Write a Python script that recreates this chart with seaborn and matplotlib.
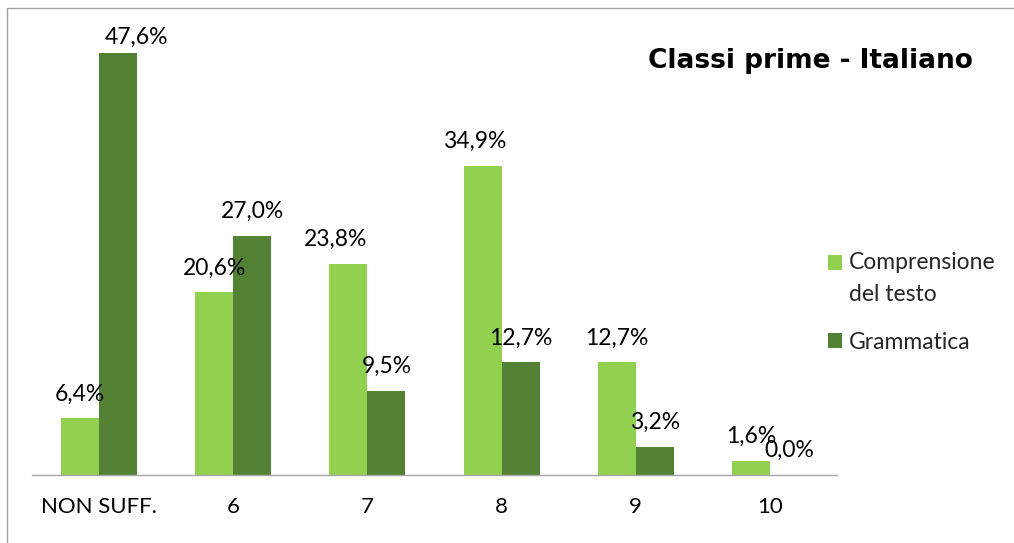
import matplotlib
matplotlib.use("Agg")
import matplotlib.pyplot as plt
import seaborn as sns
import pandas as pd
from matplotlib.patches import Rectangle
from matplotlib.legend_handler import HandlerPatch

categories = ["NON SUFF.", "6", "7", "8", "9", "10"]
series = ["Comprensione\ndel testo", "Grammatica"]
comprensione = [6.4, 20.6, 23.8, 34.9, 12.7, 1.6]
grammatica = [47.6, 27.0, 9.5, 12.7, 3.2, 0.0]
title = "Classi prime - Italiano"
colors = ["#92D050", "#548235"]

df = pd.DataFrame({
    "Voto": categories * 2,
    "Percentuale": comprensione + grammatica,
    "Serie": [series[0]] * len(categories) + [series[1]] * len(categories),
})

sns.set_theme(style="white")
plt.rcParams["font.family"] = ["Lato", "DejaVu Sans"]

W, H, DPI = 1014, 543, 100
fig = plt.figure(figsize=(W / DPI, H / DPI), dpi=DPI)
fig.patch.set_facecolor("white")
ax = fig.add_axes([32 / W, 1 - 475 / H, (837 - 32) / W, (475 - 31.7) / H])

sns.barplot(data=df, x="Voto", y="Percentuale", hue="Serie", palette=colors,
            saturation=1, width=0.566, gap=0, linewidth=0, ax=ax, legend=False)

ax.set_xlim(-0.5, len(categories) - 0.5)
ax.set_ylim(0, 50)
ax.set_yticks([])
ax.set_xlabel("")
ax.set_ylabel("")
ax.set_xticks(range(len(categories)), categories)
ax.set_xticks([i - 0.5 for i in range(len(categories) + 1)], minor=True)
ax.tick_params(axis="x", which="major", length=0, pad=16, labelsize=16, labelcolor="black")
ax.tick_params(axis="x", which="minor", length=6, width=1, color="#A6A6A6", direction="out")
for s in ["top", "left", "right"]:
    ax.spines[s].set_visible(False)
ax.spines["bottom"].set_color("#A6A6A6")
ax.spines["bottom"].set_linewidth(1)
ax.set_facecolor("white")

# data labels (offsets in points for a few labels that were moved in the original)
offsets = [
    [(0, 0), (0, 0), (-9, 0), (-6, 0), (0, 0), (0, 0)],
    [(13, -6), (0, 0), (0, 0), (0, 0), (0, 0), (0, 0)],
]
pad = 10
for cont, vals, offs in zip(ax.containers, [comprensione, grammatica], offsets):
    labels = [f"{v:.1f}%".replace(".", ",") for v in vals]
    texts = ax.bar_label(cont, labels=labels, padding=pad, fontsize=16.5, color="black")
    for t, (dx, dy) in zip(texts, offs):
        t.xyann = (dx, pad + dy)

fig.text(810 / W, 1 - 68 / H, title, ha="center", va="baseline",
         fontsize=19, fontweight="bold", color="black", family="DejaVu Sans")


class FirstLineHandler(HandlerPatch):
    def __init__(self, shift, **kw):
        super().__init__(**kw)
        self.shift = shift

    def create_artists(self, legend, orig_handle, xdescent, ydescent, width,
                       height, fontsize, trans):
        return super().create_artists(legend, orig_handle, xdescent,
                                      ydescent - self.shift, width, height,
                                      fontsize, trans)


handles = [c.patches[0] for c in ax.containers]
leg_fs = 16.5
leg = ax.legend(handles, series, loc="upper left",
                bbox_to_anchor=(828 / W, 1 - 252 / H), bbox_transform=fig.transFigure,
                frameon=False, fontsize=leg_fs, borderpad=0, borderaxespad=0,
                handlelength=0.63, handleheight=0.63, handletextpad=0.3,
                labelspacing=1.2,
                handler_map={handles[0]: FirstLineHandler(shift=12)})
for t in leg.get_texts():
    t.set_linespacing(1.62)

fig.add_artist(Rectangle((7 / W, -0.1), 1.2, 1 - 8 / H + 0.1, transform=fig.transFigure,
                         fill=False, edgecolor="#A0A0A0", linewidth=1))

fig.savefig("out.png", dpi=DPI, facecolor="white")
